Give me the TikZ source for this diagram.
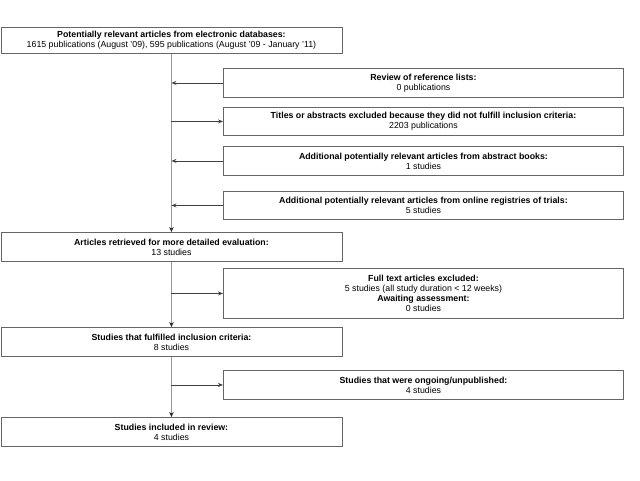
\documentclass[tikz,border=0pt]{standalone}
\usepackage{fontspec}
\setmainfont{Liberation Sans}
\usetikzlibrary{arrows.meta}

\begin{document}
\begin{tikzpicture}[x=1pt,y=-1pt,>={Stealth[length=5pt,width=4pt]},
  box/.style={draw=black!60,line width=0.9pt,anchor=north west,align=center,inner sep=1pt,font=\fontsize{8.8}{10}\selectfont},
  left box/.style={box,minimum width=341pt},
  right box/.style={box,minimum width=400pt},
  trunk/.style={-{Stealth[length=5pt,width=4.5pt,black!85]},draw=black!40,line width=1.4pt},
  side/.style={->,draw=black!75,line width=0.8pt}]
\useasboundingbox (0,0) rectangle (640,480);

                \node[left box,minimum height=26pt] (db) at (0.5,27) {\textbf{Potentially relevant articles from electronic databases:}\\1615 publications (August '09), 595 publications (August '09 - January '11)};
                \node[right box,minimum height=29pt] (rev) at (223,68) {\textbf{Review of reference lists:}\\0 publications};
                \node[right box,minimum height=28pt] (tit) at (223,107) {\textbf{Titles or abstracts excluded because they did not fulfill inclusion criteria:}\\2203 publications};
                \node[right box,minimum height=29pt] (abs) at (223,146) {\textbf{Additional potentially relevant articles from abstract books:}\\1 studies};
                \node[right box,minimum height=28pt] (reg) at (223,191) {\textbf{Additional potentially relevant articles from online registries of trials:}\\5 studies};
                \node[left box,minimum height=29pt] (art) at (0.5,232) {\textbf{Articles retrieved for more detailed evaluation:}\\13 studies};
                \node[right box,minimum height=50pt] (exc) at (223,268) {\textbf{Full text articles excluded:}\\5 studies (all study duration \textless{} 12 weeks)\\\textbf{Awaiting assessment:}\\0 studies};
                \node[left box,minimum height=29pt] (ful) at (0.5,327) {\textbf{Studies that fulfilled inclusion criteria:}\\8 studies};
                \node[right box,minimum height=29pt] (ong) at (223,370) {\textbf{Studies that were ongoing/unpublished:}\\4 studies};
                \node[left box,minimum height=29pt] (inc) at (0.5,417) {\textbf{Studies included in review:}\\4 studies};

                \path
                    (db) edge[trunk] (art)
                    (art) edge[trunk] (ful)
                    (ful) edge[trunk] (inc)
                ;

                \path
                    (rev.west) edge[side] (rev.west -| db.south)
                    (tit.west -| db.south) edge[side] (tit.west)
                    (abs.west) edge[side] (abs.west -| db.south)
                    (reg.west) edge[side] (reg.west -| db.south)
                    (exc.west -| db.south) edge[side] (exc.west)
                    (ong.west -| db.south) edge[side] (ong.west)
                ;

\end{tikzpicture}
\end{document}
